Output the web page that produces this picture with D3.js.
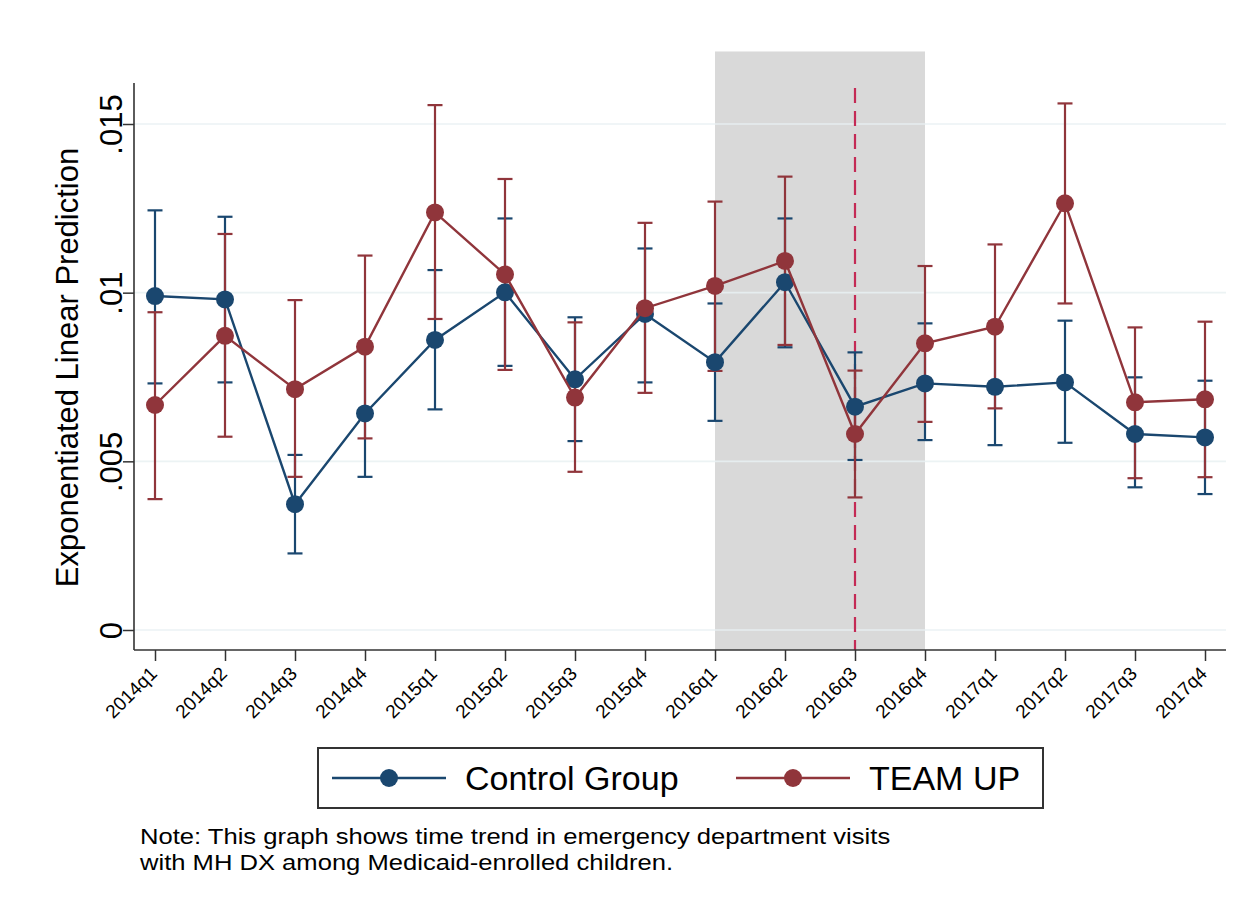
<!DOCTYPE html>
<html>
<head>
<meta charset="utf-8">
<script src="https://cdn.jsdelivr.net/npm/d3@7"></script>
<style>
  html, body { margin: 0; padding: 0; background: #ffffff; }
  svg { display: block; font-family: "Liberation Sans", Arial, Helvetica, sans-serif; }
</style>
</head>
<body>
<svg id="chart" width="1256" height="909"></svg>
<script>
// Quarterly ED visits with MH diagnosis: predicted rates and 95% CIs
const quarters = ["2014q1","2014q2","2014q3","2014q4","2015q1","2015q2","2015q3","2015q4",
                  "2016q1","2016q2","2016q3","2016q4","2017q1","2017q2","2017q3","2017q4"];

const controlEst = [0.00990, 0.00980, 0.00373, 0.00642, 0.00860, 0.01001, 0.00743, 0.00937,
                    0.00794, 0.01031, 0.00662, 0.00731, 0.00721, 0.00734, 0.00581, 0.00571];
const controlLo  = [0.00731, 0.00734, 0.00227, 0.00454, 0.00654, 0.00783, 0.00560, 0.00734,
                    0.00620, 0.00838, 0.00504, 0.00563, 0.00548, 0.00555, 0.00423, 0.00403];
const controlHi  = [0.01244, 0.01225, 0.00519, 0.00840, 0.01067, 0.01220, 0.00927, 0.01131,
                    0.00968, 0.01220, 0.00823, 0.00909, 0.00900, 0.00917, 0.00749, 0.00739];

const teamEst = [0.00667, 0.00872, 0.00714, 0.00840, 0.01238, 0.01054, 0.00689, 0.00954,
                 0.01020, 0.01094, 0.00581, 0.00850, 0.00899, 0.01265, 0.00675, 0.00684];
const teamLo  = [0.00388, 0.00573, 0.00454, 0.00568, 0.00922, 0.00771, 0.00469, 0.00703,
                 0.00768, 0.00845, 0.00393, 0.00617, 0.00657, 0.00968, 0.00450, 0.00453];
const teamHi  = [0.00942, 0.01174, 0.00978, 0.01110, 0.01556, 0.01337, 0.00912, 0.01207,
                 0.01270, 0.01344, 0.00769, 0.01079, 0.01143, 0.01561, 0.00897, 0.00914];

const yTicks = [0, 0.005, 0.01, 0.015];
const yTickLabels = ["0", ".005", ".01", ".015"];

// Implementation window and start quarter
const shadeStart = "2016q1";
const shadeEnd = "2016q4";
const shadeTop = 0.01715;
const interventionQuarter = "2016q3";

const seriesNames = ["Control Group", "TEAM UP"];
const noteLines = [
  "Note: This graph shows time trend in emergency department visits",
  "with MH DX among Medicaid-enrolled children."
];

const colors = { control: "#1a476f", team: "#90353b", shade: "#d9d9d9", grid: "#e9f1f3", vline: "#c42a55" };

const svg = d3.select("#chart");
const plot = { left: 134, right: 1226, top: 83, bottom: 650 };

// first/last quarters sit 21px inside the plot frame
const x = d3.scalePoint().domain(quarters).range([plot.left + 21, plot.right - 21]).padding(0);
const y = d3.scaleLinear().domain([0, 0.015]).range([630, 124]);

// shaded window
svg.append("rect")
  .attr("x", x(shadeStart))
  .attr("y", y(shadeTop))
  .attr("width", x(shadeEnd) - x(shadeStart))
  .attr("height", plot.bottom - y(shadeTop))
  .attr("fill", colors.shade);

// gridlines
svg.append("g").selectAll("line").data(yTicks).join("line")
  .attr("x1", plot.left).attr("x2", plot.right)
  .attr("y1", d => y(d)).attr("y2", d => y(d))
  .attr("stroke", colors.grid).attr("stroke-width", 1.6)
  .attr("opacity", 0.85);

// intervention line
svg.append("line")
  .attr("x1", x(interventionQuarter)).attr("x2", x(interventionQuarter))
  .attr("y1", plot.top + 5).attr("y2", plot.bottom)
  .attr("stroke", colors.vline).attr("stroke-width", 2.2)
  .attr("stroke-dasharray", "15,8");

// Y axis
const yAxis = d3.axisLeft(y).tickValues(yTicks).tickSize(11).tickFormat((d, i) => yTickLabels[i]);
const gy = svg.append("g").attr("transform", `translate(${plot.left},0)`).call(yAxis);
gy.select(".domain").remove();
gy.selectAll(".tick line").attr("stroke", "#333").attr("stroke-width", 1.5);
gy.selectAll(".tick text")
  .attr("transform", "translate(-12,0) rotate(-90)")
  .attr("x", 0).attr("y", 0).attr("dy", 0)
  .attr("text-anchor", "middle")
  .attr("fill", "#000")
  .style("font-size", "31px")
  .style("font-family", "'Liberation Sans', Arial, sans-serif");
svg.append("line")
  .attr("x1", plot.left).attr("x2", plot.left)
  .attr("y1", plot.top).attr("y2", plot.bottom)
  .attr("stroke", "#333").attr("stroke-width", 1.6);

// X axis
const xAxis = d3.axisBottom(x).tickSize(11);
const gx = svg.append("g").attr("transform", `translate(0,${plot.bottom})`).call(xAxis);
gx.select(".domain").remove();
gx.selectAll(".tick line").attr("stroke", "#333").attr("stroke-width", 1.5);
gx.selectAll(".tick text")
  .attr("transform", "translate(-2,20) rotate(-45)")
  .attr("x", 0).attr("y", 0).attr("dy", "0.35em")
  .attr("text-anchor", "end")
  .attr("fill", "#000")
  .style("font-size", "19px")
  .style("font-family", "'Liberation Sans', Arial, sans-serif");
svg.append("line")
  .attr("x1", plot.left).attr("x2", plot.right)
  .attr("y1", plot.bottom).attr("y2", plot.bottom)
  .attr("stroke", "#333").attr("stroke-width", 1.6);

// Y axis title
svg.append("text")
  .attr("transform", `translate(78,${(145 + 590) / 2}) rotate(-90)`)
  .attr("text-anchor", "middle")
  .style("font-size", "31px")
  .attr("fill", "#000")
  .text("Exponentiated Linear Prediction");

const capHalf = 7.5;
function errorBars(est, lo, hi, color) {
  const g = svg.append("g").attr("stroke", color).attr("stroke-width", 2.2).attr("fill", "none");
  quarters.forEach((q, i) => {
    const cx = x(q);
    g.append("line").attr("x1", cx).attr("x2", cx).attr("y1", y(lo[i])).attr("y2", y(hi[i]));
    g.append("line").attr("x1", cx - capHalf).attr("x2", cx + capHalf).attr("y1", y(lo[i])).attr("y2", y(lo[i]));
    g.append("line").attr("x1", cx - capHalf).attr("x2", cx + capHalf).attr("y1", y(hi[i])).attr("y2", y(hi[i]));
  });
}
function series(est, color) {
  const line = d3.line().x((d, i) => x(quarters[i])).y(d => y(d));
  svg.append("path").datum(est)
    .attr("d", line).attr("fill", "none")
    .attr("stroke", color).attr("stroke-width", 2.4);
  svg.append("g").selectAll("circle").data(est).join("circle")
    .attr("cx", (d, i) => x(quarters[i])).attr("cy", d => y(d))
    .attr("r", 9).attr("fill", color);
}

errorBars(controlEst, controlLo, controlHi, colors.control);
errorBars(teamEst, teamLo, teamHi, colors.team);
series(controlEst, colors.control);
series(teamEst, colors.team);

// Legend
const lg = svg.append("g");
lg.append("rect").attr("x", 318).attr("y", 748).attr("width", 725).attr("height", 60)
  .attr("fill", "#fff").attr("stroke", "#333").attr("stroke-width", 2);
const legendItems = [
  { name: seriesNames[0], color: colors.control, x0: 332 },
  { name: seriesNames[1], color: colors.team, x0: 736 }
];
legendItems.forEach(it => {
  lg.append("line").attr("x1", it.x0).attr("x2", it.x0 + 114).attr("y1", 778).attr("y2", 778)
    .attr("stroke", it.color).attr("stroke-width", 2.4);
  lg.append("circle").attr("cx", it.x0 + 57).attr("cy", 778).attr("r", 9).attr("fill", it.color);
  lg.append("text").attr("x", it.x0 + 133).attr("y", 790)
    .style("font-size", "34px").attr("fill", "#000").text(it.name);
});

// Note (wide set, as in the exported figure)
svg.append("g").attr("transform", "translate(140,0) scale(1.19,1)")
  .selectAll("text").data(noteLines).join("text")
  .attr("x", 0).attr("y", (d, i) => 844 + i * 26)
  .style("font-size", "21.5px").attr("fill", "#000")
  .text(d => d);
</script>
</body>
</html>
